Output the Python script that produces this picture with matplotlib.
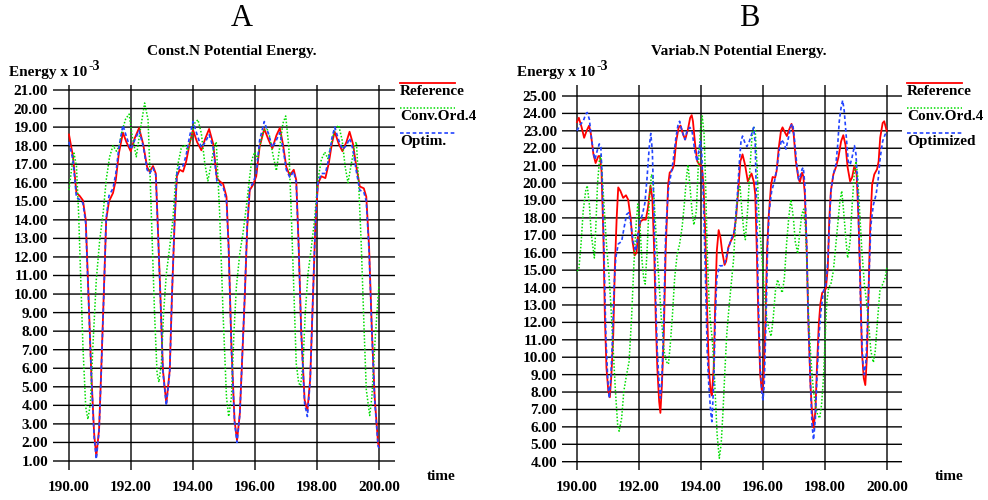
import matplotlib
matplotlib.use('Agg')
import matplotlib.pyplot as plt
from matplotlib.lines import Line2D

plt.rcParams['font.family'] = ['Liberation Serif', 'DejaVu Serif']

# ---- panel A : Const.N ----
a_ref_t = [190.0, 190.13, 190.24, 190.34, 190.45, 190.54, 190.61, 190.72, 190.81, 190.88,
           190.97, 191.04, 191.13, 191.2, 191.29, 191.42, 191.51, 191.61, 191.74, 191.85,
           191.99, 192.12, 192.26, 192.39, 192.52, 192.6, 192.71, 192.8, 192.87, 192.95,
           193.03, 193.14, 193.25, 193.32, 193.41, 193.48, 193.57, 193.68, 193.78, 193.89,
           194.0, 194.13, 194.27, 194.4, 194.52, 194.65, 194.77, 194.88, 194.97, 195.08,
           195.15, 195.24, 195.34, 195.42, 195.51, 195.58, 195.67, 195.75, 195.83, 195.94,
           196.04, 196.15, 196.3, 196.44, 196.56, 196.69, 196.8, 196.9, 197.01, 197.12,
           197.25, 197.33, 197.41, 197.49, 197.6, 197.69, 197.78, 197.87, 197.95, 198.03,
           198.14, 198.27, 198.38, 198.48, 198.57, 198.7, 198.82, 198.95, 199.05, 199.16,
           199.27, 199.38, 199.51, 199.59, 199.68, 199.77, 199.86, 199.97, 200.0]
a_ref_v = [18.6, 17.4, 15.45, 15.3, 15.05, 14.0, 10.8, 5.7, 2.5, 1.25,
           2.7, 5.9, 10.4, 14.0, 15.0, 15.45, 16.15, 17.6, 18.7, 18.2,
           17.7, 18.4, 18.95, 18.1, 16.85, 16.6, 16.9, 16.5, 13.45, 9.85,
           5.9, 4.1, 5.9, 9.85, 14.0, 16.35, 16.7, 16.6, 17.15, 18.1,
           18.85, 18.2, 17.75, 18.4, 18.9, 18.1, 16.25, 16.05, 15.95, 15.25,
           12.55, 7.15, 3.2, 2.1, 3.55, 6.25, 9.85, 13.6, 15.6, 15.9,
           16.35, 17.95, 18.9, 18.3, 17.85, 18.55, 18.95, 18.1, 16.85, 16.4,
           16.7, 16.15, 12.55, 8.05, 4.3, 3.7, 5.4, 9.85, 13.8, 15.95,
           16.35, 16.25, 17.05, 18.1, 18.75, 18.1, 17.7, 18.2, 18.75, 18.1,
           16.85, 15.8, 15.7, 15.25, 12.55, 8.05, 4.45, 1.95, 1.8]
a_opt_v = [18.2, 17.2, 15.2, 15.1, 14.9, 13.8, 10.6, 5.6, 2.3, 1.1,
           2.6, 5.8, 10.3, 14.1, 15.3, 15.7, 16.5, 17.9, 19.1, 18.5,
           17.8, 18.3, 18.8, 18.0, 16.7, 16.5, 16.8, 16.4, 13.3, 9.7,
           5.8, 4.0, 5.8, 9.9, 14.2, 16.5, 16.9, 16.9, 17.5, 18.5,
           19.3, 18.6, 17.9, 18.2, 18.6, 17.9, 16.1, 15.9, 15.8, 15.0,
           12.4, 7.0, 3.1, 2.0, 3.5, 6.3, 10.0, 13.8, 15.7, 16.0,
           16.5, 18.3, 19.3, 18.6, 17.9, 18.3, 18.7, 17.9, 16.7, 16.3,
           16.6, 16.0, 12.4, 7.9, 4.1, 3.4, 5.3, 9.9, 13.9, 16.0,
           16.5, 16.5, 17.3, 18.4, 19.0, 18.3, 17.8, 18.0, 18.4, 17.8,
           16.6, 15.6, 15.5, 15.0, 12.3, 7.9, 4.3, 1.8, 1.7]
a_conv_t = [190.0, 190.08, 190.16, 190.24, 190.31, 190.38, 190.45, 190.54, 190.61, 190.69,
            190.77, 190.88, 190.99, 191.1, 191.2, 191.31, 191.42, 191.53, 191.61, 191.72,
            191.83, 191.94, 192.04, 192.17, 192.3, 192.44, 192.55, 192.62, 192.69, 192.76,
            192.84, 192.9, 192.98, 193.05, 193.14, 193.25, 193.35, 193.44, 193.52, 193.62,
            193.72, 193.83, 193.95, 194.05, 194.16, 194.27, 194.38, 194.48, 194.59, 194.68,
            194.75, 194.86, 194.97, 195.08, 195.15, 195.24, 195.32, 195.4, 195.51, 195.61,
            195.72, 195.83, 195.9, 195.99, 196.08, 196.15, 196.26, 196.37, 196.47, 196.58,
            196.69, 196.8, 196.9, 196.99, 197.09, 197.17, 197.26, 197.33, 197.41, 197.47,
            197.55, 197.62, 197.71, 197.82, 197.92, 198.03, 198.14, 198.25, 198.35, 198.46,
            198.57, 198.7, 198.81, 198.91, 199.0, 199.11, 199.22, 199.27, 199.34, 199.43,
            199.52, 199.59, 199.7, 199.77, 199.86, 199.97, 200.0]
a_conv_v = [15.6, 16.7, 17.6, 16.9, 14.35, 10.75, 7.15, 3.9, 3.25, 4.1,
            7.15, 10.75, 12.9, 14.35, 16.15, 17.4, 18.0, 17.7, 17.95, 18.85,
            19.45, 19.7, 18.5, 17.4, 18.85, 20.3, 19.4, 16.15, 12.55, 8.95,
            5.75, 5.25, 6.25, 8.95, 11.1, 12.55, 14.0, 16.15, 17.05, 17.85,
            18.05, 17.75, 18.5, 19.2, 19.4, 18.65, 17.05, 16.1, 17.05, 17.95,
            18.2, 14.35, 8.95, 4.45, 3.4, 4.45, 7.9, 10.4, 12.2, 13.25,
            14.7, 16.35, 17.25, 17.65, 17.25, 17.95, 18.75, 19.0, 18.5, 17.5,
            16.65, 17.95, 19.2, 19.6, 17.95, 14.35, 9.85, 6.25, 5.2, 5.05,
            6.25, 8.95, 11.1, 12.55, 14.0, 16.15, 17.25, 17.65, 17.3, 18.1,
            18.85, 19.1, 18.3, 16.85, 16.0, 17.05, 18.05, 18.2, 16.15, 12.55,
            8.05, 4.85, 3.45, 4.45, 7.15, 9.85, 10.5]

# ---- panel B : Variab.N ----
b_ref_t = [190.0, 190.06, 190.15, 190.23, 190.31, 190.39, 190.45, 190.53, 190.6, 190.69,
           190.74, 190.79, 190.85, 190.9, 190.95, 191.01, 191.06, 191.11, 191.17, 191.22,
           191.28, 191.33, 191.4, 191.49, 191.58, 191.65, 191.73, 191.79, 191.86, 191.92,
           191.97, 192.05, 192.13, 192.22, 192.29, 192.37, 192.43, 192.49, 192.54, 192.59,
           192.65, 192.69, 192.74, 192.8, 192.86, 192.94, 192.99, 193.07, 193.13, 193.2,
           193.28, 193.34, 193.42, 193.49, 193.58, 193.65, 193.7, 193.74, 193.82, 193.88,
           193.95, 194.03, 194.08, 194.14, 194.19, 194.25, 194.31, 194.35, 194.41, 194.46,
           194.51, 194.57, 194.63, 194.68, 194.76, 194.81, 194.88, 194.97, 195.05, 195.13,
           195.2, 195.27, 195.34, 195.42, 195.51, 195.59, 195.63, 195.7, 195.75, 195.8,
           195.85, 195.91, 195.97, 196.02, 196.08, 196.13, 196.18, 196.26, 196.31, 196.39,
           196.44, 196.51, 196.58, 196.63, 196.71, 196.77, 196.85, 196.92, 196.99, 197.06,
           197.14, 197.19, 197.26, 197.3, 197.35, 197.41, 197.46, 197.53, 197.58, 197.63,
           197.69, 197.74, 197.8, 197.85, 197.91, 197.98, 198.03, 198.09, 198.14, 198.19,
           198.27, 198.35, 198.43, 198.52, 198.59, 198.66, 198.73, 198.81, 198.87, 198.95,
           199.02, 199.08, 199.14, 199.19, 199.25, 199.3, 199.35, 199.41, 199.46, 199.52,
           199.59, 199.68, 199.73, 199.78, 199.86, 199.91, 199.99]
b_ref_v = [23.5, 23.75, 23.2, 22.6, 23.0, 23.3, 22.8, 21.65, 21.15, 21.55,
           21.55, 20.7, 17.05, 12.25, 9.4, 8.05, 7.7, 9.0, 11.3, 15.1,
           18.0, 19.75, 19.55, 19.15, 19.3, 19.05, 18.0, 16.65, 15.85, 16.0,
           17.05, 17.8, 17.9, 17.9, 18.6, 19.85, 19.15, 16.1, 12.25, 9.4,
           7.45, 6.8, 8.45, 11.3, 16.1, 19.9, 20.6, 20.75, 21.05, 22.4,
           23.2, 23.3, 22.8, 22.5, 23.1, 23.75, 23.9, 23.55, 22.05, 21.25,
           21.05, 20.95, 19.9, 17.05, 13.2, 9.4, 8.05, 7.8, 9.4, 13.2,
           16.1, 17.3, 16.85, 16.1, 15.3, 15.5, 16.3, 16.7, 16.95, 18.0,
           19.55, 21.25, 21.65, 21.05, 20.1, 20.4, 20.55, 20.1, 19.35, 16.1,
           12.25, 9.0, 7.95, 8.8, 12.25, 16.1, 18.0, 19.9, 20.35, 20.3,
           20.7, 22.05, 23.0, 23.2, 22.9, 22.7, 23.1, 23.4, 22.8, 21.25,
           20.3, 20.05, 20.6, 20.4, 19.35, 16.1, 12.25, 8.45, 6.9, 5.95,
           6.9, 9.4, 11.9, 13.05, 13.7, 13.8, 13.95, 15.15, 18.0, 19.55,
           20.5, 20.9, 21.45, 22.4, 22.75, 22.2, 20.9, 20.1, 20.3, 21.0,
           20.5, 18.0, 14.2, 10.35, 8.8, 8.4, 9.95, 14.2, 17.6, 19.9,
           20.5, 20.8, 21.25, 22.6, 23.45, 23.55, 23.0]
b_opt_t = [190.0, 190.1, 190.2, 190.28, 190.33, 190.4, 190.45, 190.53, 190.58, 190.65,
           190.72, 190.77, 190.81, 190.87, 190.93, 190.99, 191.04, 191.09, 191.15, 191.2,
           191.25, 191.33, 191.44, 191.52, 191.6, 191.67, 191.74, 191.81, 191.89, 191.95,
           192.03, 192.11, 192.19, 192.26, 192.33, 192.38, 192.43, 192.49, 192.54, 192.59,
           192.65, 192.69, 192.74, 192.8, 192.86, 192.94, 193.02, 193.1, 193.19, 193.26,
           193.31, 193.39, 193.48, 193.55, 193.64, 193.71, 193.8, 193.87, 193.93, 193.98,
           194.02, 194.08, 194.15, 194.2, 194.25, 194.31, 194.35, 194.41, 194.46, 194.51,
           194.6, 194.68, 194.76, 194.86, 194.97, 195.08, 195.16, 195.24, 195.29, 195.34,
           195.42, 195.48, 195.56, 195.63, 195.7, 195.75, 195.8, 195.85, 195.91, 195.97,
           196.0, 196.04, 196.1, 196.15, 196.2, 196.28, 196.37, 196.45, 196.53, 196.6,
           196.67, 196.74, 196.82, 196.9, 196.96, 197.01, 197.09, 197.15, 197.2, 197.26,
           197.3, 197.35, 197.41, 197.46, 197.53, 197.58, 197.63, 197.69, 197.74, 197.8,
           197.87, 197.95, 198.03, 198.09, 198.14, 198.19, 198.27, 198.35, 198.41, 198.46,
           198.52, 198.57, 198.62, 198.68, 198.75, 198.81, 198.87, 198.95, 199.0, 199.05,
           199.11, 199.16, 199.22, 199.27, 199.32, 199.38, 199.43, 199.48, 199.56, 199.65,
           199.72, 199.78, 199.86, 199.94, 200.0]
b_opt_v = [23.0, 23.35, 23.55, 23.95, 24.05, 23.65, 22.8, 21.75, 21.35, 21.85,
           22.25, 22.05, 20.3, 16.1, 11.3, 8.8, 7.65, 8.8, 11.3, 14.2,
           15.7, 16.5, 16.65, 17.45, 18.2, 18.3, 17.6, 16.65, 16.1, 16.85,
           17.8, 18.2, 18.85, 20.3, 22.05, 22.85, 21.85, 18.0, 13.2, 10.35,
           8.45, 7.65, 8.8, 12.25, 17.05, 19.55, 20.4, 21.25, 22.6, 23.35,
           23.55, 23.0, 22.5, 23.0, 23.2, 23.0, 21.85, 21.25, 21.85, 22.4,
           21.85, 18.95, 14.2, 10.35, 8.45, 6.9, 6.3, 8.45, 12.25, 14.55,
           15.25, 15.25, 15.35, 16.1, 16.75, 17.25, 18.95, 21.25, 22.4, 22.7,
           22.3, 22.1, 22.4, 22.8, 23.2, 22.2, 18.0, 13.2, 9.4, 7.85,
           7.55, 8.45, 12.25, 16.5, 18.4, 19.55, 20.1, 20.9, 21.95, 22.5,
           22.3, 21.95, 22.6, 23.3, 23.4, 22.6, 21.05, 20.2, 20.4, 20.8,
           20.9, 19.9, 16.5, 12.25, 8.45, 6.15, 5.25, 6.5, 8.8, 11.1,
           12.65, 13.8, 14.2, 15.5, 17.6, 19.55, 20.5, 21.05, 22.2, 23.55,
           24.35, 24.75, 24.15, 22.8, 21.25, 21.05, 21.45, 22.15, 21.65, 19.9,
           16.1, 12.25, 9.75, 9.0, 9.75, 12.25, 15.15, 17.6, 18.75, 19.35,
           20.3, 21.45, 22.4, 22.8, 22.8]
b_conv_t = [190.0, 190.06, 190.13, 190.2, 190.28, 190.33, 190.4, 190.46, 190.53, 190.56,
            190.61, 190.66, 190.72, 190.77, 190.83, 190.9, 190.95, 191.03, 191.09, 191.17,
            191.24, 191.31, 191.36, 191.44, 191.51, 191.6, 191.68, 191.76, 191.83, 191.9,
            191.96, 192.03, 192.09, 192.15, 192.2, 192.26, 192.33, 192.4, 192.45, 192.52,
            192.58, 192.65, 192.72, 192.81, 192.88, 192.95, 193.01, 193.08, 193.15, 193.23,
            193.31, 193.39, 193.46, 193.53, 193.58, 193.64, 193.71, 193.77, 193.85, 193.91,
            193.99, 194.04, 194.1, 194.15, 194.2, 194.26, 194.31, 194.36, 194.42, 194.47,
            194.52, 194.59, 194.65, 194.71, 194.77, 194.83, 194.9, 194.97, 195.05, 195.13,
            195.2, 195.26, 195.32, 195.38, 195.43, 195.51, 195.58, 195.65, 195.7, 195.75,
            195.81, 195.86, 195.91, 195.99, 196.04, 196.12, 196.18, 196.26, 196.33, 196.4,
            196.47, 196.55, 196.62, 196.69, 196.76, 196.83, 196.9, 196.98, 197.04, 197.12,
            197.18, 197.25, 197.31, 197.37, 197.42, 197.47, 197.53, 197.58, 197.63, 197.69,
            197.76, 197.83, 197.89, 197.95, 198.01, 198.06, 198.12, 198.19, 198.27, 198.33,
            198.41, 198.48, 198.54, 198.6, 198.68, 198.73, 198.81, 198.87, 198.95, 199.0,
            199.05, 199.13, 199.19, 199.27, 199.34, 199.41, 199.48, 199.56, 199.62, 199.7,
            199.77, 199.86, 199.94, 200.0]
b_conv_v = [14.95, 15.05, 16.5, 18.4, 19.55, 19.85, 18.75, 17.05, 16.1, 15.7,
            17.6, 19.9, 21.25, 21.6, 19.9, 18.0, 16.5, 14.75, 13.05, 10.35,
            8.05, 6.15, 5.75, 6.5, 8.05, 9.0, 9.75, 12.25, 15.15, 17.45,
            18.8, 17.6, 15.7, 14.55, 14.2, 16.1, 18.95, 20.5, 20.25, 18.0,
            16.1, 14.2, 12.25, 10.35, 9.75, 9.6, 10.75, 12.45, 14.55, 15.9,
            16.5, 17.45, 18.75, 20.3, 21.05, 19.9, 18.4, 17.6, 18.4, 20.9,
            23.2, 23.85, 22.8, 19.9, 16.1, 13.2, 11.9, 11.1, 9.4, 7.45,
            5.55, 4.2, 5.0, 6.9, 9.2, 11.3, 12.8, 14.1, 15.6, 18.2,
            19.55, 19.8, 18.4, 17.25, 16.75, 18.6, 20.9, 22.8, 23.25, 23.0,
            20.9, 18.4, 17.05, 15.15, 13.8, 12.25, 11.7, 11.2, 12.25, 13.8,
            14.45, 14.0, 13.7, 14.55, 16.5, 18.0, 19.05, 18.0, 16.65, 15.95,
            17.05, 18.2, 18.5, 17.45, 15.15, 12.25, 10.35, 9.0, 8.05, 7.3,
            6.7, 6.5, 7.3, 8.8, 11.3, 13.2, 14.0, 14.2, 14.95, 16.1,
            17.6, 18.95, 19.55, 18.4, 16.65, 15.7, 16.65, 18.6, 20.7, 21.25,
            20.5, 18.0, 16.1, 14.2, 13.2, 11.9, 10.35, 9.7, 10.35, 12.25,
            13.8, 14.2, 14.55, 15.2]

x_ticks = [190, 192, 194, 196, 198, 200]
a_yticks = list(range(1, 22))
b_yticks = list(range(4, 26))

W, H = 988, 500
fig = plt.figure(figsize=(W / 100, H / 100), dpi=100)


def fx(px):
    return px / W


def fy(py):
    return 1 - py / H


def panel(box, xlim, ylim, yticks, series):
    x0, x1, y0, y1 = box
    ax = fig.add_axes([fx(x0), fy(y1), fx(x1) - fx(x0), fy(y0) - fy(y1)])
    ax.set_xlim(*xlim)
    ax.set_ylim(*ylim)
    ax.set_facecolor('none')
    for s in ax.spines.values():
        s.set_visible(False)
    for y in yticks:
        ax.axhline(y, color='black', lw=1.0, snap=False, zorder=1)
    for x in x_ticks:
        ax.axvline(x, color='black', lw=1.0, snap=False, zorder=1)
    ax.set_xticks(x_ticks, ['%.2f' % v for v in x_ticks])
    ax.set_yticks(yticks, ['%.2f' % v for v in yticks])
    ax.tick_params(axis='both', length=0, labelsize=11)
    ax.tick_params(axis='y', pad=3.6)
    ax.tick_params(axis='x', pad=8)
    for lab in ax.get_xticklabels() + ax.get_yticklabels():
        lab.set_fontweight('bold')
    for t, v, kw in series:
        ax.plot(t, v, zorder=3, **kw)
    return ax


red = dict(color='#ff0000', lw=1.3)
green = dict(color='#00dd00', lw=1.1, ls=(0, (1, 1.2)))
blue = dict(color='#2244ff', lw=1.2, ls=(0, (2.2, 1.6)))

panel((53, 395, 85, 470), (190 - 16 / 31, 200 + 16 / 31),
      (1 - 9 / 18.55, 21 + 5 / 18.55), a_yticks,
      [(a_ref_t, a_ref_v, red), (a_conv_t, a_conv_v, green), (a_ref_t, a_opt_v, blue)])
panel((562, 902, 85, 470), (190 - 15 / 31, 200 + 15 / 31),
      (4 - 8.3 / 17.41, 25 + 11 / 17.41), b_yticks,
      [(b_ref_t, b_ref_v, red), (b_conv_t, b_conv_v, green), (b_opt_t, b_opt_v, blue)])

# headers and labels
ylabels = []
for cx, letter, title, lx in [(242, 'A', 'Const.N Potential Energy.', 9),
                              (749, 'B', 'Variab.N Potential Energy.', 517)]:
    fig.text(fx(cx), fy(19), letter, fontsize=22, ha='center', va='center')
    fig.text(fx(cx - 10), fy(52), title, fontsize=11, fontweight='bold',
             ha='center', va='center')
    ylabels.append(fig.text(fx(lx), fy(76), 'Energy x 10', fontsize=11,
                            fontweight='bold', ha='left', va='baseline'))

# superscript exponent right after the axis label
fig.canvas.draw()
renderer = fig.canvas.get_renderer()
for t in ylabels:
    bb = t.get_window_extent(renderer)
    fig.text(fx(bb.x1 + 1), fy(70), '-3', fontsize=10, fontweight='bold',
             ha='left', va='baseline')

for tx in [441, 949]:
    fig.text(fx(tx), fy(477), 'time', fontsize=11, fontweight='bold',
             ha='center', va='center')

legend_rows = [(83, 92, red), (108, 116, green), (133, 141, blue)]
for lx, labels in [(400, ['Reference', 'Conv.Ord.4', 'Optim.']),
                   (907, ['Reference', 'Conv.Ord.4', 'Optimized'])]:
    for (ly, ty, kw), lab in zip(legend_rows, labels):
        fig.add_artist(Line2D([fx(lx), fx(lx + 55)], [fy(ly), fy(ly)], **kw))
        fig.text(fx(lx), fy(ty), lab, fontsize=11, fontweight='bold',
                 ha='left', va='center')

fig.savefig('out.png', dpi=100)
